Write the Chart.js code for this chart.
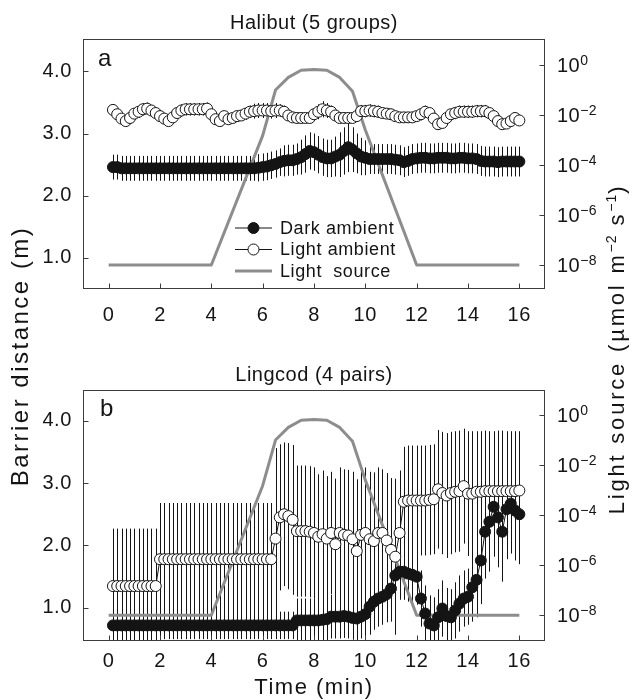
<!DOCTYPE html>
<html lang="en">
<head>
<meta charset="utf-8">
<title>Barrier distance – halibut and lingcod</title>
<script src="https://cdn.jsdelivr.net/npm/chart.js@4.4.1/dist/chart.umd.min.js"></script>
<style>
  html, body { margin: 0; background: #fff; }
  #figure { position: relative; width: 633px; height: 700px; }
  #figure canvas { position: absolute; left: 0; top: 0; }
</style>
</head>
<body>
<div id="figure">
  <canvas id="panelA" width="633" height="700"></canvas>
  <canvas id="panelB" width="633" height="700"></canvas>
</div>
<script>
const FONT = '"Liberation Sans", Arial, Helvetica, sans-serif';
const INK = '#141414';
const SOURCE_GREY = '#8d8d8d';

// one reading every 10 s
const TIME_S = [
  10, 20, 30, 40, 50, 60, 70, 80, 90, 100, 110, 120,
  130, 140, 150, 160, 170, 180, 190, 200, 210, 220, 230, 240,
  250, 260, 270, 280, 290, 300, 310, 320, 330, 340, 350, 360,
  370, 380, 390, 400, 410, 420, 430, 440, 450, 460, 470, 480,
  490, 500, 510, 520, 530, 540, 550, 560, 570, 580, 590, 600,
  610, 620, 630, 640, 650, 660, 670, 680, 690, 700, 710, 720,
  730, 740, 750, 760, 770, 780, 790, 800, 810, 820, 830, 840,
  850, 860, 870, 880, 890, 900, 910, 920, 930, 940, 950, 960
];
const X_TICKS = [0, 2, 4, 6, 8, 10, 12, 14, 16];
const DIST_TICKS = [1, 2, 3, 4];
const LIGHT_TICKS = [1e-8, 1e-6, 1e-4, 1e-2, 1];

// light source ramp (min, umol m-2 s-1)
const SOURCE_T = [0, 4, 6, 6.5, 7, 7.5, 8, 8.5, 9, 9.5, 10, 12, 16];
const SOURCE_I = [1e-8, 1e-8, 1.5e-3, 0.1, 0.32, 0.62, 0.66, 0.62, 0.32, 0.09, 2.5e-3, 1e-8, 1e-8];

// halibut, mean barrier distance (m) and error
const HALIBUT_DARK = [
  2.46, 2.46, 2.44, 2.44, 2.44, 2.44, 2.44, 2.44, 2.44, 2.44, 2.44, 2.44,
  2.44, 2.44, 2.44, 2.44, 2.44, 2.44, 2.44, 2.44, 2.44, 2.44, 2.44, 2.44,
  2.44, 2.44, 2.44, 2.44, 2.44, 2.44, 2.44, 2.44, 2.44, 2.44, 2.45, 2.46,
  2.47, 2.49, 2.51, 2.54, 2.56, 2.57, 2.57, 2.59, 2.62, 2.67, 2.72, 2.70,
  2.66, 2.62, 2.60, 2.60, 2.63, 2.66, 2.72, 2.78, 2.74, 2.68, 2.63, 2.61,
  2.59, 2.59, 2.59, 2.59, 2.59, 2.59, 2.58, 2.57, 2.54, 2.56, 2.59, 2.60,
  2.61, 2.61, 2.60, 2.60, 2.61, 2.61, 2.61, 2.60, 2.60, 2.61, 2.61, 2.60,
  2.60, 2.59, 2.56, 2.55, 2.55, 2.55, 2.54, 2.55, 2.55, 2.55, 2.55, 2.55
];
const HALIBUT_DARK_SE = [
  0.20, 0.20, 0.20, 0.20, 0.20, 0.20, 0.20, 0.20, 0.20, 0.20, 0.20, 0.20,
  0.20, 0.20, 0.20, 0.20, 0.20, 0.20, 0.20, 0.20, 0.20, 0.20, 0.20, 0.20,
  0.20, 0.20, 0.20, 0.20, 0.20, 0.20, 0.20, 0.20, 0.20, 0.20, 0.22, 0.22,
  0.22, 0.22, 0.22, 0.22, 0.25, 0.25, 0.25, 0.25, 0.28, 0.30, 0.30, 0.30,
  0.30, 0.30, 0.30, 0.30, 0.32, 0.36, 0.38, 0.40, 0.36, 0.32, 0.30, 0.28,
  0.24, 0.24, 0.24, 0.24, 0.24, 0.24, 0.24, 0.24, 0.24, 0.24, 0.24, 0.24,
  0.24, 0.24, 0.24, 0.24, 0.24, 0.24, 0.24, 0.24, 0.24, 0.24, 0.24, 0.24,
  0.24, 0.24, 0.24, 0.24, 0.24, 0.24, 0.24, 0.24, 0.24, 0.24, 0.24, 0.24
];
const HALIBUT_LIGHT = [
  3.38, 3.31, 3.24, 3.20, 3.25, 3.32, 3.35, 3.39, 3.40, 3.37, 3.33, 3.28,
  3.24, 3.20, 3.26, 3.33, 3.37, 3.39, 3.39, 3.39, 3.39, 3.39, 3.40, 3.31,
  3.23, 3.20, 3.28, 3.23, 3.25, 3.28, 3.29, 3.32, 3.35, 3.36, 3.37, 3.37,
  3.37, 3.36, 3.37, 3.37, 3.35, 3.29, 3.26, 3.25, 3.25, 3.25, 3.25, 3.31,
  3.35, 3.39, 3.37, 3.35, 3.29, 3.25, 3.25, 3.25, 3.25, 3.28, 3.36, 3.36,
  3.37, 3.36, 3.35, 3.33, 3.32, 3.31, 3.28, 3.26, 3.26, 3.26, 3.26, 3.28,
  3.31, 3.35, 3.33, 3.24, 3.15, 3.17, 3.25, 3.31, 3.33, 3.35, 3.35, 3.35,
  3.35, 3.36, 3.36, 3.36, 3.33, 3.28, 3.20, 3.15, 3.16, 3.20, 3.25, 3.21
];
const HALIBUT_LIGHT_SE = [
  0.08, 0.08, 0.08, 0.08, 0.08, 0.08, 0.10, 0.10, 0.10, 0.08, 0.08, 0.08,
  0.08, 0.08, 0.08, 0.08, 0.10, 0.10, 0.10, 0.10, 0.10, 0.10, 0.10, 0.08,
  0.08, 0.08, 0.08, 0.08, 0.08, 0.08, 0.08, 0.10, 0.10, 0.12, 0.12, 0.12,
  0.12, 0.12, 0.12, 0.10, 0.10, 0.08, 0.08, 0.08, 0.08, 0.08, 0.08, 0.10,
  0.12, 0.13, 0.12, 0.10, 0.08, 0.08, 0.08, 0.08, 0.08, 0.08, 0.10, 0.10,
  0.10, 0.10, 0.10, 0.08, 0.08, 0.08, 0.08, 0.08, 0.08, 0.08, 0.08, 0.08,
  0.10, 0.10, 0.08, 0.08, 0.08, 0.08, 0.08, 0.08, 0.10, 0.10, 0.10, 0.10,
  0.10, 0.10, 0.10, 0.10, 0.08, 0.08, 0.08, 0.08, 0.08, 0.08, 0.08, 0.08
];

// lingcod, mean barrier distance (m) and error
const LINGCOD_DARK = [
  0.72, 0.72, 0.72, 0.72, 0.72, 0.72, 0.72, 0.72, 0.72, 0.72, 0.72, 0.72,
  0.72, 0.72, 0.72, 0.72, 0.72, 0.72, 0.72, 0.72, 0.72, 0.72, 0.72, 0.72,
  0.72, 0.72, 0.72, 0.72, 0.72, 0.72, 0.72, 0.72, 0.72, 0.72, 0.72, 0.72,
  0.72, 0.72, 0.72, 0.72, 0.72, 0.72, 0.72, 0.80, 0.80, 0.80, 0.80, 0.80,
  0.80, 0.81, 0.82, 0.86, 0.86, 0.86, 0.87, 0.86, 0.84, 0.83, 0.86, 0.90,
  1.02, 1.10, 1.15, 1.18, 1.22, 1.31, 1.52, 1.58, 1.58, 1.55, 1.53, 1.50,
  1.15, 0.91, 0.75, 0.72, 0.85, 0.99, 0.87, 0.85, 0.96, 1.07, 1.15, 1.18,
  1.33, 1.45, 1.76, 2.22, 2.38, 2.62, 2.45, 2.22, 2.58, 2.67, 2.56, 2.50
];
const LINGCOD_DARK_SE = [
  0.22, 0.22, 0.22, 0.22, 0.22, 0.22, 0.22, 0.22, 0.22, 0.22, 0.22, 0.22,
  0.22, 0.22, 0.22, 0.22, 0.22, 0.22, 0.22, 0.22, 0.22, 0.22, 0.22, 0.22,
  0.22, 0.22, 0.22, 0.22, 0.22, 0.22, 0.22, 0.22, 0.22, 0.22, 0.22, 0.22,
  0.22, 0.22, 0.22, 0.22, 0.22, 0.22, 0.22, 0.35, 0.35, 0.35, 0.35, 0.35,
  0.35, 0.35, 0.35, 0.35, 0.35, 0.35, 0.35, 0.35, 0.35, 0.35, 0.35, 0.35,
  0.45, 0.45, 0.45, 0.45, 0.45, 0.45, 0.45, 0.45, 0.45, 0.45, 0.45, 0.45,
  0.45, 0.45, 0.45, 0.45, 0.45, 0.45, 0.45, 0.45, 0.45, 0.45, 0.45, 0.45,
  0.55, 0.60, 0.70, 0.75, 0.80, 0.80, 0.80, 0.80, 0.80, 0.80, 0.80, 0.80
];
const LINGCOD_LIGHT = [
  1.35, 1.35, 1.35, 1.35, 1.35, 1.35, 1.35, 1.35, 1.35, 1.35, 1.35, 1.78,
  1.78, 1.78, 1.78, 1.78, 1.78, 1.78, 1.78, 1.78, 1.78, 1.78, 1.78, 1.78,
  1.78, 1.78, 1.78, 1.78, 1.78, 1.78, 1.78, 1.78, 1.78, 1.78, 1.78, 1.78,
  1.78, 1.78, 2.11, 2.45, 2.50, 2.47, 2.41, 2.23, 2.23, 2.23, 2.22, 2.20,
  2.14, 2.18, 2.11, 2.20, 2.02, 2.20, 2.17, 2.16, 2.10, 1.91, 2.17, 2.20,
  2.10, 2.07, 2.20, 2.20, 2.08, 1.93, 1.82, 2.20, 2.70, 2.72, 2.72, 2.72,
  2.72, 2.72, 2.73, 2.74, 2.90, 2.84, 2.80, 2.84, 2.86, 2.87, 2.95, 2.83,
  2.83, 2.86, 2.86, 2.87, 2.87, 2.87, 2.87, 2.87, 2.87, 2.87, 2.87, 2.88
];
const LINGCOD_LIGHT_SE = [
  0.92, 0.92, 0.92, 0.92, 0.92, 0.92, 0.92, 0.92, 0.92, 0.92, 0.92, 0.90,
  0.90, 0.90, 0.90, 0.90, 0.90, 0.90, 0.90, 0.90, 0.90, 0.90, 0.90, 0.90,
  0.90, 0.90, 0.90, 0.90, 0.90, 0.90, 0.90, 0.90, 0.90, 0.90, 0.90, 0.90,
  0.90, 0.90, 1.45, 1.17, 1.15, 1.17, 1.20, 1.05, 1.05, 1.05, 1.05, 1.05,
  1.00, 1.02, 1.00, 0.98, 1.05, 1.05, 1.05, 1.05, 1.08, 1.15, 1.05, 1.05,
  1.08, 1.10, 1.05, 1.02, 1.08, 1.15, 1.25, 1.00, 0.88, 0.88, 0.88, 0.88,
  0.88, 0.88, 0.88, 0.88, 0.95, 0.98, 1.00, 0.98, 0.97, 0.97, 0.92, 1.00,
  1.00, 0.97, 0.97, 0.97, 0.96, 0.96, 0.97, 0.97, 0.96, 0.96, 0.96, 0.95
];

const TIME_MIN = TIME_S.map(s => s / 60);
const points = (xs, ys) => xs.map((x, i) => ({ x, y: ys[i] }));

function text(ctx, str, x, y, size, spacing, align, baseline) {
  ctx.font = size + 'px ' + FONT;
  ctx.letterSpacing = spacing + 'px';
  ctx.textAlign = align || 'left';
  ctx.textBaseline = baseline || 'alphabetic';
  ctx.fillStyle = INK;
  ctx.fillText(str, x, y);
  return ctx.measureText(str).width;
}

// vertical error bars under the datasets
const errorBars = {
  id: 'errorBars',
  beforeDatasetsDraw(chart) {
    const { ctx, chartArea: a, scales } = chart;
    ctx.save();
    ctx.beginPath();
    ctx.rect(a.left, a.top, a.width, a.height);
    ctx.clip();
    ctx.strokeStyle = INK;
    ctx.lineWidth = 1;
    chart.data.datasets.forEach(ds => {
      if (!ds.errors) return;
      ctx.beginPath();
      ds.data.forEach((pt, i) => {
        const px = Math.round(scales.x.getPixelForValue(pt.x)) + 0.5;
        ctx.moveTo(px, scales.y.getPixelForValue(pt.y + ds.errors[i]));
        ctx.lineTo(px, scales.y.getPixelForValue(pt.y - ds.errors[i]));
      });
      ctx.stroke();
    });
    ctx.restore();
  }
};

// box round the plot with inward tick marks
const frame = {
  id: 'frame',
  beforeDraw(chart) { chart.ctx.letterSpacing = '0.6px'; },
  afterDatasetsDraw(chart) {
    const { ctx, chartArea: a, scales } = chart;
    const L = Math.round(a.left) + 0.5, R = Math.round(a.right) - 0.5;
    const T = Math.round(a.top) + 0.5, B = Math.round(a.bottom) - 0.5;
    ctx.save();
    ctx.strokeStyle = '#3c3c3c';
    ctx.lineWidth = 1;
    ctx.strokeRect(L, T, R - L, B - T);
    ctx.beginPath();
    scales.x.ticks.forEach(t => {
      const px = Math.round(scales.x.getPixelForValue(t.value)) + 0.5;
      ctx.moveTo(px, B); ctx.lineTo(px, B - 5);
    });
    scales.y.ticks.forEach(t => {
      const py = Math.round(scales.y.getPixelForValue(t.value)) + 0.5;
      ctx.moveTo(L, py); ctx.lineTo(L + 5, py);
    });
    scales.y2.ticks.forEach(t => {
      const py = Math.round(scales.y2.getPixelForValue(t.value)) + 0.5;
      ctx.moveTo(R, py); ctx.lineTo(R - 5, py);
    });
    ctx.stroke();
    ctx.restore();
  }
};

function drawLegend(chart, spec) {
  const { ctx } = chart;
  spec.order.forEach((label, row) => {
    const ds = chart.data.datasets.find(d => d.label === label);
    const y = spec.y + row * spec.step;
    ctx.beginPath();
    ctx.strokeStyle = ds.borderColor;
    ctx.lineWidth = ds.borderWidth;
    ctx.moveTo(spec.x, y);
    ctx.lineTo(spec.x + spec.len, y);
    ctx.stroke();
    if (ds.pointRadius) {
      ctx.beginPath();
      ctx.arc(spec.x + spec.len / 2, y, ds.pointRadius, 0, Math.PI * 2);
      ctx.fillStyle = ds.pointBackgroundColor;
      ctx.fill();
      ctx.lineWidth = ds.pointBorderWidth;
      ctx.strokeStyle = ds.pointBorderColor;
      ctx.stroke();
    }
    text(ctx, label, spec.x + spec.len + 8, y + 1, 18, 0.6, 'left', 'middle');
  });
}

// one string laid along a rotated baseline, with raised parts
function drawRotated(ctx, x, y, parts, size, supSize, spacing) {
  ctx.save();
  ctx.translate(x, y);
  ctx.rotate(-Math.PI / 2);
  ctx.textBaseline = 'alphabetic';
  ctx.textAlign = 'left';
  ctx.fillStyle = INK;
  const widths = parts.map(([s, sup]) => {
    ctx.font = (sup ? supSize : size) + 'px ' + FONT;
    ctx.letterSpacing = (sup ? 1 : spacing) + 'px';
    return ctx.measureText(s).width;
  });
  let cx = -widths.reduce((p, w) => p + w, 0) / 2;
  parts.forEach(([s, sup], i) => {
    ctx.font = (sup ? supSize : size) + 'px ' + FONT;
    ctx.letterSpacing = (sup ? 1 : spacing) + 'px';
    ctx.fillText(s, cx, sup ? -8 : 0);
    cx += widths[i];
  });
  ctx.restore();
}

const panelText = {
  id: 'panelText',
  afterDraw(chart, args, opts) {
    const { ctx, chartArea: a } = chart;
    ctx.save();
    text(ctx, opts.title, (a.left + a.right) / 2, opts.titleY, 20, 0.5, 'center');
    text(ctx, opts.letter, a.left + opts.letterDx, a.top + opts.letterDy, 24, 0);

    const y2 = chart.scales.y2;
    y2.ticks.forEach(t => {
      const py = y2.getPixelForValue(t.value) + 1.5;
      const exp = Math.round(Math.log10(t.value));
      const w = text(ctx, '10', a.right + 12, py, 20, 0.5, 'left', 'middle');
      text(ctx, exp === 0 ? '0' : '\u2212' + Math.abs(exp), a.right + 12 + w, py - 1.5, 14, 0.3);
    });

    if (opts.legend) drawLegend(chart, opts.legend);

    if (opts.shared) {
      text(ctx, 'Time (min)', (a.left + a.right) / 2, 694, 22, 1.5, 'center');
      drawRotated(ctx, 28, 356, [['Barrier distance (m)', 0]], 24, 15, 2.5);
      drawRotated(ctx, 624, 349, [
        ['Light source (\u00b5mol m', 0], ['\u22122', 1], [' s', 0], ['\u22121', 1], [')', 0]
      ], 22, 14, 2.8);
    }
    ctx.restore();
  }
};

function makePanel(id, p) {
  const tickFont = { family: FONT, size: 20 };
  return new Chart(document.getElementById(id), {
    type: 'scatter',
    data: {
      datasets: [
        {
          label: 'Light ambient', data: points(TIME_MIN, p.light), errors: p.lightSE,
          yAxisID: 'y', order: 1, showLine: true, borderColor: INK, borderWidth: 1,
          pointRadius: 5.5, pointBorderWidth: 1, pointBorderColor: INK, pointBackgroundColor: '#fff'
        },
        {
          label: 'Dark ambient', data: points(TIME_MIN, p.dark), errors: p.darkSE,
          yAxisID: 'y', order: 2, showLine: true, borderColor: INK, borderWidth: 1,
          pointRadius: 5.5, pointBorderWidth: 1, pointBorderColor: INK, pointBackgroundColor: INK
        },
        {
          label: 'Light  source', data: points(SOURCE_T, SOURCE_I),
          yAxisID: 'y2', order: 3, showLine: true, borderColor: SOURCE_GREY, borderWidth: 3,
          pointRadius: 0, borderJoinStyle: 'round'
        }
      ]
    },
    options: {
      responsive: false,
      animation: false,
      devicePixelRatio: 1,
      events: [],
      layout: { padding: { left: 0, right: 0, top: p.top, bottom: 0 } },
      plugins: {
        legend: { display: false },
        tooltip: { enabled: false },
        panelText: p.text
      },
      scales: {
        x: {
          type: 'linear', min: -1, max: 17,
          grid: { display: false, drawTicks: false }, border: { display: false },
          ticks: { font: tickFont, color: INK, padding: p.xPad, callback: v => String(v) },
          afterBuildTicks: s => { s.ticks = X_TICKS.map(v => ({ value: v })); },
          afterFit: s => { s.height = 700 - p.bottom; }
        },
        y: {
          type: 'linear', position: 'left', min: p.yMin, max: p.yMax,
          grid: { display: false, drawTicks: false }, border: { display: false },
          ticks: { font: tickFont, color: INK, padding: 11, callback: v => v.toFixed(1) },
          afterBuildTicks: s => { s.ticks = DIST_TICKS.map(v => ({ value: v })); },
          afterFit: s => { s.width = 83; }
        },
        y2: {
          type: 'logarithmic', position: 'right', min: p.logMin, max: p.logMax,
          grid: { display: false, drawTicks: false }, border: { display: false },
          ticks: { display: false },
          afterBuildTicks: s => { s.ticks = LIGHT_TICKS.map(v => ({ value: v })); },
          afterFit: s => { s.width = 88; }
        }
      }
    },
    plugins: [errorBars, frame, panelText]
  });
}

makePanel('panelA', {
  dark: HALIBUT_DARK, darkSE: HALIBUT_DARK_SE,
  light: HALIBUT_LIGHT, lightSE: HALIBUT_LIGHT_SE,
  top: 39, bottom: 289, xPad: 14,
  yMin: 0.5, yMax: 4.52, logMin: 1.1e-9, logMax: 11,
  text: {
    title: 'Halibut (5 groups)', titleY: 29, letter: 'a', letterDx: 15, letterDy: 27,
    legend: { order: ['Dark ambient', 'Light ambient', 'Light  source'], x: 235, y: 228, step: 21.5, len: 37 }
  }
});

makePanel('panelB', {
  dark: LINGCOD_DARK, darkSE: LINGCOD_DARK_SE,
  light: LINGCOD_LIGHT, lightSE: LINGCOD_LIGHT_SE,
  top: 390, bottom: 641, xPad: 8,
  yMin: 0.47, yMax: 4.49, logMin: 9.3e-10, logMax: 10,
  text: {
    title: 'Lingcod (4 pairs)', titleY: 380.5, letter: 'b', letterDx: 17, letterDy: 26,
    shared: true
  }
});
</script>
</body>
</html>
